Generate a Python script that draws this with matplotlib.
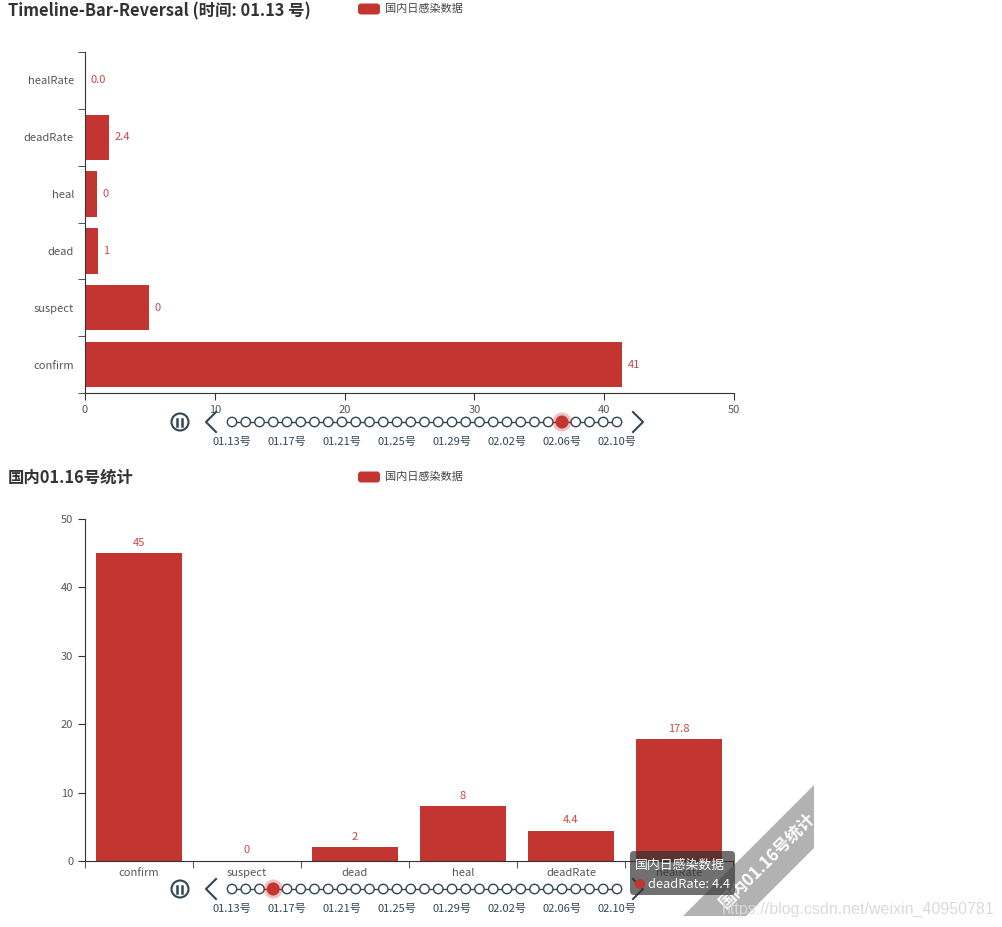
import matplotlib
matplotlib.use("Agg")
import matplotlib.pyplot as plt
from matplotlib.patches import Circle, FancyBboxPatch, Polygon

plt.rcParams['font.family'] = ['Noto Sans CJK SC', 'DejaVu Sans']

# data
categories = ["confirm", "suspect", "dead", "heal", "deadRate", "healRate"]
# top chart is caught mid-animation: bar lengths and labels differ
top_bars = [41.4, 4.9, 1.0, 0.9, 1.85, 0.0]
top_labels = ["41", "0", "1", "0", "2.4", "0.0"]
bottom_vals = [45, 0, 2, 8, 4.4, 17.8]
bottom_labels = ["45", "0", "2", "8", "4.4", "17.8"]
dates = ["01.13", "01.14", "01.15", "01.16", "01.17", "01.18", "01.19", "01.20",
         "01.21", "01.22", "01.23", "01.24", "01.25", "01.26", "01.27", "01.28",
         "01.29", "01.30", "01.31", "02.01", "02.02", "02.03", "02.04", "02.05",
         "02.06", "02.07", "02.08", "02.09", "02.10"]
top_current = "02.06"
bottom_current = "01.16"
series_name = "国内日感染数据"

RED = '#c23531'
LBL = '#cc4743'
AX = '#333333'
TL = '#304654'
W, H = 1002, 927


def rect(l, t, r, b):
    return [l / W, 1 - b / H, (r - l) / W, (b - t) / H]


fig = plt.figure(figsize=(W / 100, H / 100), dpi=100)

# ---- top: horizontal bars
ax1 = fig.add_axes(rect(85, 52, 734, 393))
y = range(len(categories))
ax1.barh(y, top_bars, height=0.8, color=RED)
for i, (v, lab) in enumerate(zip(top_bars, top_labels)):
    ax1.annotate(lab, (v, i), xytext=(4, 0), textcoords='offset points',
                 va='center', ha='left', color=LBL, fontsize=8)
ax1.set_xlim(0, 50)
ax1.set_ylim(-0.5, len(categories) - 0.5)
ax1.set_xticks(range(0, 51, 10))
ax1.set_yticks(list(y))
ax1.set_yticklabels(categories)
ax1.set_yticks([i - 0.5 for i in range(len(categories) + 1)], minor=True)
ax1.tick_params(axis='y', which='major', length=0, pad=8, labelsize=8, labelcolor='#555')
ax1.tick_params(axis='y', which='minor', length=5, color=AX)
ax1.tick_params(axis='x', length=5, color=AX, labelsize=8, labelcolor='#555')
for s in ['top', 'right']:
    ax1.spines[s].set_visible(False)
for s in ['left', 'bottom']:
    ax1.spines[s].set_color(AX)

# ---- bottom: vertical bars
ax2 = fig.add_axes(rect(85, 519, 733, 861))
x = range(len(categories))
ax2.bar(x, bottom_vals, width=0.8, color=RED)
for i, (v, lab) in enumerate(zip(bottom_vals, bottom_labels)):
    ax2.annotate(lab, (i, v), xytext=(0, 4), textcoords='offset points',
                 va='bottom', ha='center', color=LBL, fontsize=8)
ax2.set_ylim(0, 50)
ax2.set_xlim(-0.5, len(categories) - 0.5)
ax2.set_yticks(range(0, 51, 10))
ax2.set_xticks(list(x))
ax2.set_xticklabels(categories)
ax2.set_xticks([i - 0.5 for i in range(len(categories) + 1)], minor=True)
ax2.tick_params(axis='x', which='major', length=0, pad=5, labelsize=8, labelcolor='#555')
ax2.tick_params(axis='x', which='minor', length=5, color=AX)
ax2.tick_params(axis='y', length=5, color=AX, labelsize=8, labelcolor='#555')
for s in ['top', 'right']:
    ax2.spines[s].set_visible(False)
for s in ['left', 'bottom']:
    ax2.spines[s].set_color(AX)

# ---- overlay in pixel coordinates
ov = fig.add_axes([0, 0, 1, 1], zorder=10)
ov.set_xlim(0, W)
ov.set_ylim(H, 0)
ov.axis('off')
ov.patch.set_alpha(0)


def header(title, ty, ly):
    ov.text(8, ty, title, fontsize=11.8, fontweight='bold', color='#333',
            va='center', ha='left')
    ov.add_patch(FancyBboxPatch((358, ly - 5.5), 22, 11,
                                boxstyle='round,pad=0,rounding_size=3',
                                facecolor=RED, edgecolor='none'))
    ov.text(385, ly, series_name, fontsize=8, color='#444', va='center', ha='left')


def timeline(yc, current):
    x0, x1 = 232, 617
    step = (x1 - x0) / (len(dates) - 1)
    xs = [x0 + i * step for i in range(len(dates))]
    ov.plot([x0, x1], [yc, yc], color=TL, lw=1, zorder=1)
    for i, (xx, d) in enumerate(zip(xs, dates)):
        if d == current:
            ov.add_patch(Circle((xx, yc), 9.5, facecolor=RED, alpha=0.3,
                                edgecolor='none', zorder=3))
            ov.add_patch(Circle((xx, yc), 6.5, facecolor=RED, edgecolor='none', zorder=4))
        else:
            ov.add_patch(Circle((xx, yc), 4.7, facecolor='white', edgecolor=TL,
                                lw=1, zorder=2))
        if i % 4 == 0:
            ov.text(xx, yc + 20, d + "号", fontsize=8, color=TL, ha='center', va='center')
    # play/pause control
    ov.add_patch(Circle((180, yc), 8.5, facecolor='none', edgecolor=TL, lw=1.5))
    ov.plot([177.5, 177.5], [yc - 3.5, yc + 3.5], color=TL, lw=1.8)
    ov.plot([182.5, 182.5], [yc - 3.5, yc + 3.5], color=TL, lw=1.8)
    # prev / next arrows
    ov.plot([216, 206, 216], [yc - 10, yc, yc + 10], color=TL, lw=1.5)
    ov.plot([633, 643, 633], [yc - 10, yc, yc + 10], color=TL, lw=1.5)


header("Timeline-Bar-Reversal (时间: 01.13 号)", 11, 9)
timeline(422, top_current)
header("国内" + bottom_current + "号统计", 478, 477)
timeline(889, bottom_current)

# corner ribbon watermark
ov.add_patch(Polygon([(683, 916), (814, 785), (814, 848), (746, 916)],
                     closed=True, facecolor='#b2b2b2', edgecolor='none', zorder=20))
ov.text(767, 860, "国内01.16号统计", rotation=45, fontsize=12, fontweight='bold',
        color='white', ha='center', va='center', zorder=21, rotation_mode='anchor')

# tooltip
ov.add_patch(FancyBboxPatch((630, 851), 105, 44,
                            boxstyle='round,pad=0,rounding_size=4',
                            facecolor=(0.2, 0.2, 0.2, 0.7), edgecolor='none', zorder=22))
ov.text(635, 865, series_name, fontsize=9.3, color='white', va='center', ha='left', zorder=23)
ov.add_patch(Circle((640, 884), 5, facecolor=RED, edgecolor='none', zorder=23))
ov.text(648, 884, "deadRate: 4.4", fontsize=9.3, color='white', va='center', ha='left', zorder=23)

ov.text(722, 909, "https://blog.csdn.net/weixin_40950781", fontsize=11.5,
        family=['Liberation Sans', 'DejaVu Sans'], color='#dadada',
        ha='left', va='center', zorder=24)

fig.savefig("out.png", dpi=100)
